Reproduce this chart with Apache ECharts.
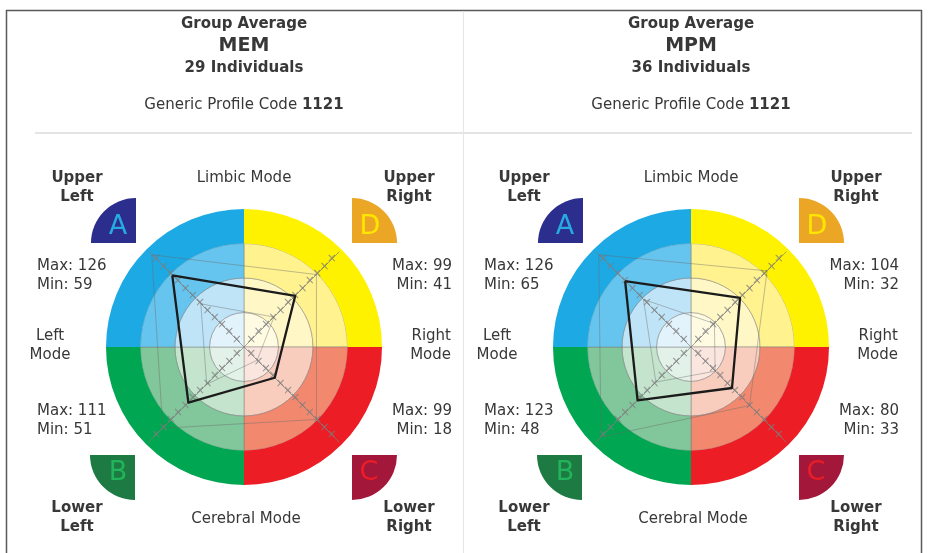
<!DOCTYPE html>
<html><head><meta charset="utf-8">
<script src="https://cdn.jsdelivr.net/npm/echarts@6/dist/echarts.min.js"></script>
<style>html,body{margin:0;padding:0;background:#fff}#chart{width:933px;height:553px}</style>
</head><body><div id="chart"></div>
<script>
// ---------- data ----------
const panelNames = ['MEM', 'MPM'];
const panelIndividuals = [29, 36];
const profileCodes = ['1121', '1121'];
const quadrantKeys = ['A', 'B', 'C', 'D'];          // radar order: upper-left, lower-left, lower-right, upper-right
const memAverage = [98, 76, 42, 70];
const memMax = [126, 111, 99, 99];
const memMin = [59, 51, 18, 41];
const mpmAverage = [90, 73, 56, 67];
const mpmMax = [126, 123, 80, 104];
const mpmMin = [65, 48, 33, 32];
const axisMax = 130;
const tickStep = 10;
const modeLabels = { top: 'Limbic Mode', bottom: 'Cerebral Mode', left: 'Left\nMode', right: 'Right\nMode' };
const cornerLabels = { UL: 'Upper\nLeft', UR: 'Upper\nRight', LL: 'Lower\nLeft', LR: 'Lower\nRight' };
const angleCats = ['D', 'C', 'B', 'A'];              // clockwise from 12 o'clock
const ringCount = 4;

// ---------- styling ----------
const ringColors = {
  A: ['#e3f3fb', '#bfe4f7', '#66c5ee', '#1ca9e4'],
  D: ['#fffbe2', '#fff7c6', '#fff28f', '#fff200'],
  C: ['#fbe6df', '#f9cdbd', '#f2896f', '#ec1d25'],
  B: ['#e3f2e8', '#c4e4ce', '#82c69b', '#00a651']
};
const badge = {
  A: { bg: '#2b2e8d', fg: '#27a9e1' },
  D: { bg: '#eba625', fg: '#ffe600' },
  B: { bg: '#1c7a42', fg: '#22b45a' },
  C: { bg: '#a3183a', fg: '#ec1d25' }
};
const FONT = '"DejaVu Sans", sans-serif';
const TXT = '#383838';
const cxs = [244, 691];
const cy = 347;
const R = 138;
const radarR = R * axisMax / 133.33;

const panels = [
  { avg: memAverage, max: memMax, min: memMin },
  { avg: mpmAverage, max: mpmMax, min: mpmMin }
];

const polar = [], angleAxis = [], radiusAxis = [], radar = [], series = [], graphic = [];

function txt(x, y, text, size, bold, align) {
  graphic.push({
    type: 'text', x: x, y: y, silent: true,
    style: { text: text, fill: TXT, font: (bold ? 'bold ' : '') + size + 'px ' + FONT,
      align: align || 'center', verticalAlign: 'middle', lineHeight: 19 }
  });
}

// frame
graphic.push({ type: 'rect', silent: true, shape: { x: 6.5, y: 10.5, width: 915, height: 600 },
  style: { fill: 'none', stroke: '#5a5a5a', lineWidth: 1.5 } });
graphic.push({ type: 'line', silent: true, shape: { x1: 463.5, y1: 11, x2: 463.5, y2: 553 },
  style: { stroke: '#e6e6e6', lineWidth: 1 } });
graphic.push({ type: 'line', silent: true, shape: { x1: 35, y1: 133, x2: 912, y2: 133 },
  style: { stroke: '#e4e4e4', lineWidth: 2 } });

panels.forEach(function (p, pi) {
  const cx = cxs[pi];
  polar.push({ center: [cx, cy], radius: [0, R] });
  angleAxis.push({ polarIndex: pi, type: 'category', data: angleCats, startAngle: 90, clockwise: true, show: false });
  radiusAxis.push({ polarIndex: pi, type: 'value', min: 0, max: ringCount, show: false });

  for (let i = 0; i < ringCount; i++) {
    series.push({
      type: 'bar', coordinateSystem: 'polar', polarIndex: pi, stack: 'rings' + pi,
      barCategoryGap: '0%', silent: true, z: 1,
      data: angleCats.map(function (k) {
        return { value: 1, itemStyle: { color: ringColors[k][i],
          borderColor: i < ringCount - 1 ? 'rgba(115,115,115,0.45)' : 'rgba(0,0,0,0)', borderWidth: 1 } };
      })
    });
  }

  radar.push({
    center: [cx, cy], radius: radarR, startAngle: 135, splitNumber: axisMax / tickStep, shape: 'circle', z: 5,
    indicator: quadrantKeys.map(function (k) { return { name: k, min: 0, max: axisMax }; }),
    axisName: { show: false },
    splitLine: { show: false }, splitArea: { show: false },
    axisLine: { show: true, lineStyle: { color: 'rgba(125,125,125,0.7)', width: 1 } },
    axisTick: { show: false },
    axisLabel: { show: true, margin: 0, align: 'center', verticalAlign: 'middle',
      color: 'rgba(125,125,125,0.8)', fontSize: 12, fontFamily: FONT,
      formatter: function (v) { return v === 0 ? '' : '\u00d7'; } }
  });

  series.push({
    type: 'radar', radarIndex: pi, symbol: 'none', silent: true, z: 6,
    data: [
      { value: p.max, lineStyle: { color: 'rgba(105,105,105,0.42)', width: 1 } },
      { value: p.min, lineStyle: { color: 'rgba(105,105,105,0.42)', width: 1 } },
      { value: p.avg, lineStyle: { color: '#1b1b1b', width: 2.3 } }
    ]
  });

  // headers
  txt(cx, 24, 'Group Average', 15, true);
  txt(cx, 46, panelNames[pi], 19, true);
  txt(cx, 68, panelIndividuals[pi] + ' Individuals', 15, true);
  graphic.push({ type: 'text', x: cx, y: 105, silent: true,
    style: { text: '{n|Generic Profile Code }{b|' + profileCodes[pi] + '}', align: 'center', verticalAlign: 'middle',
      rich: { n: { font: '15px ' + FONT, fill: TXT }, b: { font: 'bold 15px ' + FONT, fill: TXT } } } });

  // mode labels
  txt(cx, 178, modeLabels.top, 15, false);
  txt(cx + 2, 519, modeLabels.bottom, 15, false);
  txt(cx - 194, 345.5, modeLabels.left, 15, false);
  txt(cx + 207, 345.5, modeLabels.right, 15, false, 'right');

  // corner labels
  txt(cx - 167, 187.5, cornerLabels.UL, 15, true);
  txt(cx + 165, 187.5, cornerLabels.UR, 15, true);
  txt(cx - 167, 518, cornerLabels.LL, 15, true);
  txt(cx + 165, 518, cornerLabels.LR, 15, true);

  // max / min labels (A upper-left, B lower-left, C lower-right, D upper-right)
  txt(cx - 207, 275.5, 'Max: ' + p.max[0] + '\nMin: ' + p.min[0], 15, false, 'left');
  txt(cx - 207, 421, 'Max: ' + p.max[1] + '\nMin: ' + p.min[1], 15, false, 'left');
  txt(cx + 208, 421, 'Max: ' + p.max[2] + '\nMin: ' + p.min[2], 15, false, 'right');
  txt(cx + 208, 275.5, 'Max: ' + p.max[3] + '\nMin: ' + p.min[3], 15, false, 'right');

  // quadrant badges
  const badges = [
    { k: 'A', x: cx - 108, y: cy - 104, s: Math.PI, e: Math.PI * 1.5, lx: -18, ly: -16 },
    { k: 'D', x: cx + 108, y: cy - 104, s: Math.PI * 1.5, e: Math.PI * 2, lx: 18, ly: -16 },
    { k: 'B', x: cx - 109, y: cy + 108, s: Math.PI * 0.5, e: Math.PI, lx: -17, ly: 18 },
    { k: 'C', x: cx + 108, y: cy + 108, s: 0, e: Math.PI * 0.5, lx: 17, ly: 18 }
  ];
  badges.forEach(function (b) {
    graphic.push({ type: 'sector', silent: true,
      shape: { cx: b.x, cy: b.y, r: 45, r0: 0, startAngle: b.s, endAngle: b.e },
      style: { fill: badge[b.k].bg } });
    graphic.push({ type: 'text', silent: true, x: b.x + b.lx, y: b.y + b.ly,
      style: { text: b.k, fill: badge[b.k].fg, font: '27px ' + FONT, align: 'center', verticalAlign: 'middle' } });
  });
});

const chart = echarts.init(document.getElementById('chart'), null, { renderer: 'canvas' });
chart.setOption({
  animation: false,
  backgroundColor: '#ffffff',
  polar: polar, angleAxis: angleAxis, radiusAxis: radiusAxis, radar: radar,
  series: series, graphic: graphic
});
</script></body></html>
